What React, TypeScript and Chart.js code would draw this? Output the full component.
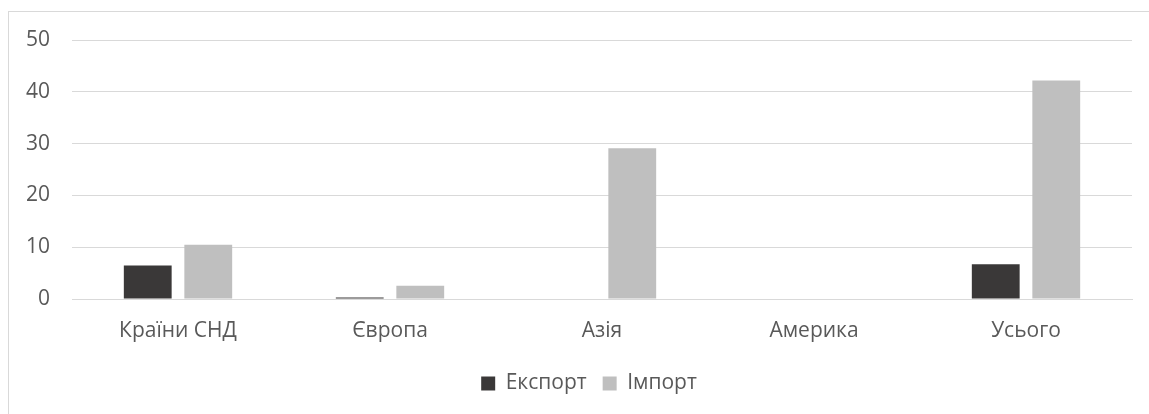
import React, { useEffect, useRef } from "react";
import { Chart, registerables } from "chart.js";

Chart.register(...registerables);

const categories = ["Країни СНД", "Європа", "Азія", "Америка", "Усього"];
const exportValues = [6.45, 0.3, 0, 0, 6.7];
const importValues = [10.45, 2.55, 29.1, 0, 42.2];
const yTicks = [0, 10, 20, 30, 40, 50];

const TEXT = "#595959";
const GRID = "#d9d9d9";
const FONT = "'Open Sans', 'Noto Sans', sans-serif";
const FONT_SIZE = 21;

// The legend is centred on the whole chart frame, which runs a little wider
// than the canvas on the right, so it is nudged to the right after layout.
const legendShift = {
  id: "legendShift",
  afterLayout(chart: any) {
    const lg = chart.legend;
    if (lg) {
      lg.left += 23;
      lg.right += 23;
    }
  },
};

export default function App() {
  const ref = useRef<HTMLCanvasElement | null>(null);

  useEffect(() => {
    if (!ref.current) return;
    const chart = new Chart(ref.current, {
      type: "bar",
      data: {
        labels: categories,
        datasets: [
          {
            label: "Експорт",
            data: exportValues,
            backgroundColor: "#3a3838",
            categoryPercentage: 0.571,
            barPercentage: 0.79,
          },
          {
            label: "Імпорт",
            data: importValues,
            backgroundColor: "#bfbfbf",
            categoryPercentage: 0.571,
            barPercentage: 0.79,
          },
        ],
      },
      plugins: [legendShift],
      options: {
        responsive: false,
        animation: false,
        layout: { padding: { left: 0, right: 17, top: 40, bottom: 10 } },
        plugins: {
          tooltip: { enabled: false },
          legend: {
            position: "bottom",
            labels: {
              color: TEXT,
              font: { family: FONT, size: FONT_SIZE },
              boxWidth: 14,
              boxHeight: 14,
              padding: 16,
            },
          },
        },
        scales: {
          x: {
            grid: { display: false, drawTicks: false },
            border: { display: true, color: GRID, width: 1 },
            ticks: {
              color: TEXT,
              font: { family: FONT, size: FONT_SIZE },
              padding: 19,
              maxRotation: 0,
            },
            afterFit: (s: any) => {
              s.height = 58;
            },
          },
          y: {
            min: 0,
            max: 50,
            afterBuildTicks: (s: any) => {
              s.ticks = yTicks.map((v) => ({ value: v }));
            },
            grid: { color: GRID, lineWidth: 1, drawTicks: false },
            border: { display: false },
            ticks: {
              color: TEXT,
              font: { family: FONT, size: FONT_SIZE },
              padding: 22,
            },
            afterFit: (s: any) => {
              s.width = 72;
            },
          },
        },
      },
    });
    return () => chart.destroy();
  }, []);

  return (
    <div style={{ position: "absolute", left: 0, top: 0, width: 1149, height: 414, overflow: "hidden", background: "#fff" }}>
      <div
        style={{
          position: "absolute",
          left: 8,
          top: 11,
          width: 1200,
          height: 500,
          borderLeft: `1px solid ${GRID}`,
          borderTop: `1px solid ${GRID}`,
        }}
      />
      <canvas ref={ref} width={1149} height={414} style={{ position: "absolute", left: 0, top: 0 }} />
    </div>
  );
}
